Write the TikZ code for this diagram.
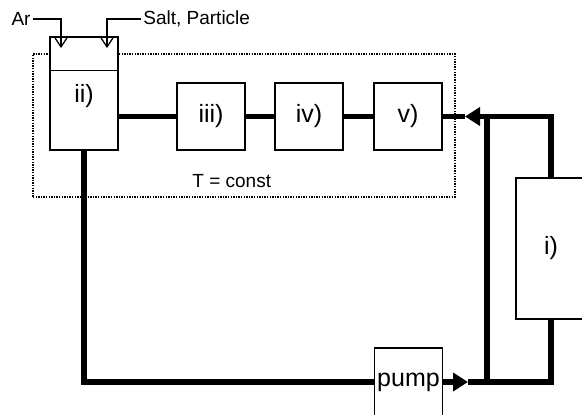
\documentclass[tikz,border=0pt]{standalone}
\usepackage{fontspec}
\setmainfont{Liberation Sans}
\usetikzlibrary{arrows.meta, positioning, calc}

\begin{document}
\begin{tikzpicture}[
    x=0.5pt, y=-0.5pt,
    unit/.style={draw, fill=white, line width=0.65pt, minimum width=34pt, minimum height=#1, inner sep=0pt, font=\fontsize{12.5}{14}\selectfont},
    unit/.default=33.5pt,
    pipe/.style={line width=2.8pt},
    pipearr/.style={pipe, -{Triangle[length=7.5pt, width=9pt]}},
    feed/.style={line width=0.6pt, -{Straight Barb[length=4.5pt, width=6pt]}},
    small/.style={font=\fontsize{9.5}{11}\selectfont, inner sep=1pt},
    tempzone/.style={draw, line width=0.7pt, dash pattern=on 0.7pt off 0.6pt},
]
\clip (0,0) rectangle (582,414);

% Temperature controlled zone
\node[tempzone, minimum width=211pt, minimum height=71.5pt, inner sep=0pt] (zone) at (244,125.5) {};
\node[small, anchor=base west] (tconst) at (190,187) {T = const};

% Vessel
\node[unit=56.5pt] (ii) at (84,93.5) {};
\draw[line width=0.65pt] ($(ii.north west)+(0,34)$) -- ($(ii.north east)+(0,34)$);
\node[font=\fontsize{12.5}{14}\selectfont] (iilab) at (84,96) {ii)};

% Units in series
\node[unit] (iii) at (211,116.5) {iii)};
\node[unit] (iv) at (309,116.5) {iv)};
\node[unit] (v) at (408,116.5) {v)};
\node[unit=70.5pt, minimum width=35pt] (i) at (551,248.5) {i)};
\node[unit=34pt] (pump) at (408.5,382) {pump};

% Feeds
\node[small] (ar) at (21,19) {Ar};
\node[small, anchor=west] (salt) at (141,19) {Salt, Particle};
\coordinate (arin) at (61,48);
\coordinate (saltin) at (107,48);
\draw[feed] (ar.east) -| (arin);
\draw[feed] (salt.west) -| (saltin);

% Flow lines
\coordinate (vtip) at (465,116.5);
\coordinate (ptip) at (468,382);
\coordinate (jtop) at (487,116.5);
\coordinate (jbot) at (487,382);

\draw[pipe] (iii.west) -- (iii.west -| ii.east);
\draw[pipe] (iii.east) -- (iv.west);
\draw[pipe] (iv.east) -- (v.west);
\draw[pipe] (ii.south) |- (pump.west);
\draw[pipearr] (pump.east) -- (ptip);
\draw[pipe] (ptip) -| (i.south);
\draw[pipe] (jbot) -- (jtop);
\draw[pipearr] (i.north) |- (vtip);
\draw[pipe] (vtip) -- (v.east);

\end{tikzpicture}
\end{document}
